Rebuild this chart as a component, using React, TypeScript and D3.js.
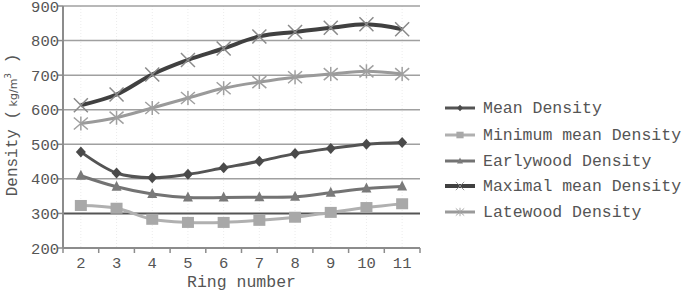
import React from "react";
import * as d3 from "d3";

const rings = [2, 3, 4, 5, 6, 7, 8, 9, 10, 11];
const meanDensity = [478, 417, 403, 413, 432, 451, 473, 488, 500, 505];
const minMeanDensity = [323, 315, 283, 274, 274, 280, 289, 303, 317, 328];
const earlywoodDensity = [409, 377, 356, 346, 346, 347, 348, 360, 372, 378];
const maximalMeanDensity = [613, 644, 702, 744, 777, 812, 825, 837, 847, 833];
const latewoodDensity = [560, 577, 605, 634, 662, 680, 694, 703, 711, 703];
const yTicks = [200, 300, 400, 500, 600, 700, 800, 900];

type Marker = "diamond" | "square" | "triangle" | "x" | "star";
interface Series {
  name: string;
  values: number[];
  color: string;
  markerColor: string;
  width: number;
  marker: Marker;
}

const series: Series[] = [
  { name: "Mean Density", values: meanDensity, color: "#545454", markerColor: "#4a4a4a", width: 3, marker: "diamond" },
  { name: "Minimum mean Density", values: minMeanDensity, color: "#b0b0b0", markerColor: "#a8a8a8", width: 3, marker: "square" },
  { name: "Earlywood Density", values: earlywoodDensity, color: "#737373", markerColor: "#7a7a7a", width: 3, marker: "triangle" },
  { name: "Maximal mean Density", values: maximalMeanDensity, color: "#404040", markerColor: "#8a8a8a", width: 4, marker: "x" },
  { name: "Latewood Density", values: latewoodDensity, color: "#9a9a9a", markerColor: "#a0a0a0", width: 3, marker: "star" },
];

const W = 685, H = 296;
const left = 63, right = 420, top = 6, bottom = 248;
const FONT = "'Liberation Mono', 'DejaVu Sans Mono', monospace";

function MarkerShape({ type, x, y, color }: { type: Marker; x: number; y: number; color: string }) {
  switch (type) {
    case "diamond":
      return <path d={`M${x},${y - 5.5}L${x + 5},${y}L${x},${y + 5.5}L${x - 5},${y}Z`} fill={color} />;
    case "square":
      return <rect x={x - 6} y={y - 5.5} width={12} height={11} fill={color} />;
    case "triangle":
      return <path d={`M${x},${y - 6}L${x + 5},${y + 4}L${x - 5},${y + 4}Z`} fill={color} />;
    case "x":
      return (
        <path d={`M${x - 7},${y - 7}L${x + 7},${y + 7}M${x - 7},${y + 7}L${x + 7},${y - 7}`} stroke={color} strokeWidth={1.5} fill="none" />
      );
    case "star":
      return (
        <path
          d={`M${x - 7},${y - 6}L${x + 7},${y + 6}M${x - 7},${y + 6}L${x + 7},${y - 6}M${x},${y - 7}L${x},${y + 7}`}
          stroke={color}
          strokeWidth={1.5}
          fill="none"
        />
      );
  }
}

export default function App() {
  const x = d3.scaleBand<number>().domain(rings).range([left, right]);
  const y = d3.scaleLinear().domain([200, 900]).range([bottom, top]);
  const cx = (r: number) => (x(r) as number) + x.bandwidth() / 2;
  const line = d3
    .line<number>()
    .x((_, i) => cx(rings[i]))
    .y((v) => y(v))
    .curve(d3.curveCatmullRom.alpha(0.5));

  const boundaries = rings.map((r) => x(r) as number).concat([right]);
  const legendY = [108, 135, 161, 186, 212];

  return (
    <svg width={W} height={H} style={{ position: "absolute", left: 0, top: 0, background: "#fff" }}>
      {rings.map((r) => (
        <line key={"vg" + r} x1={cx(r)} x2={cx(r)} y1={top} y2={bottom} stroke="#ececec" strokeWidth={1} strokeDasharray="1,2" />
      ))}
      {yTicks.map((t) => (
        <line
          key={"g" + t}
          x1={left}
          x2={right}
          y1={y(t)}
          y2={y(t)}
          stroke={t === 300 ? "#555" : "#a0a0a0"}
          strokeWidth={t === 300 ? 2 : 1.5}
        />
      ))}
      <line x1={left} x2={left} y1={top} y2={bottom} stroke="#8c8c8c" strokeWidth={2} />
      <line x1={left} x2={right} y1={bottom} y2={bottom} stroke="#8c8c8c" strokeWidth={2} />
      {yTicks.map((t) => (
        <g key={"yt" + t}>
          <line x1={left - 5} x2={left} y1={y(t)} y2={y(t)} stroke="#8c8c8c" strokeWidth={1.5} />
          <text x={left - 4} y={y(t) + 5.5} textAnchor="end" fontFamily={FONT} fontSize={15.5} fill="#555">
            {t}
          </text>
        </g>
      ))}
      {boundaries.map((b, i) => (
        <line key={"xt" + i} x1={b} x2={b} y1={bottom} y2={bottom + 5} stroke="#8c8c8c" strokeWidth={1.5} />
      ))}
      {rings.map((r) => (
        <text key={"xl" + r} x={cx(r)} y={268} textAnchor="middle" fontFamily={FONT} fontSize={15.5} fill="#555">
          {r}
        </text>
      ))}
      <text x={(left + right) / 2} y={287} textAnchor="middle" fontFamily={FONT} fontSize={16.5} fill="#555">
        Ring number
      </text>
      <text transform={`translate(17,${(top + bottom) / 2 - 2}) rotate(-90)`} textAnchor="middle" fontFamily={FONT} fontSize={16} fill="#555">
        Density (
        <tspan fontSize={11} fontFamily="'DejaVu Sans', sans-serif"> kg/m</tspan>
        <tspan fontSize={9} dy={-6} fontFamily="'DejaVu Sans', sans-serif">3</tspan>
        <tspan dy={6}> )</tspan>
      </text>

      {series.map((s) => (
        <g key={s.name}>
          <path d={line(s.values) || ""} fill="none" stroke={s.color} strokeWidth={s.width} />
          {s.values.map((v, i) => (
            <MarkerShape key={i} type={s.marker} x={cx(rings[i])} y={y(v)} color={s.markerColor} />
          ))}
        </g>
      ))}

      {series.map((s, i) => (
        <g key={"lg" + s.name}>
          <line x1={445} x2={475} y1={legendY[i]} y2={legendY[i]} stroke={s.color} strokeWidth={s.width} />
          <g transform={`translate(460,${legendY[i]}) scale(0.6) translate(-460,${-legendY[i]})`}>
            <MarkerShape type={s.marker} x={460} y={legendY[i]} color={s.markerColor} />
          </g>
          <text x={483} y={legendY[i] + 5} fontFamily={FONT} fontSize={16.5} fill="#555">
            {s.name}
          </text>
        </g>
      ))}
    </svg>
  );
}
